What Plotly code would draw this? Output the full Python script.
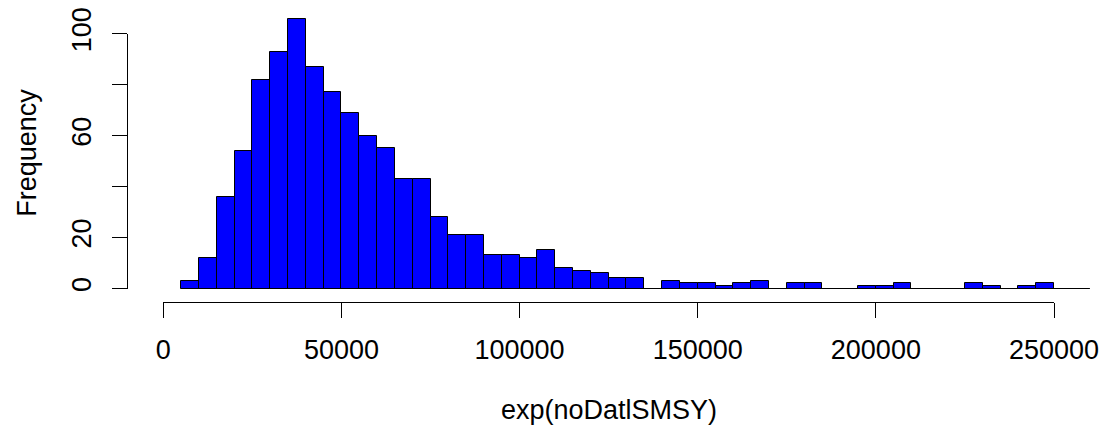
import plotly.graph_objects as go

# ---- data ----
bin_start = 5000
bin_width = 5000
counts = [3, 12, 36, 54, 82, 93, 106, 87, 77, 69,
          60, 55, 43, 43, 28, 21, 21, 13, 13, 12,
          15, 8, 7, 6, 4, 4, 0, 3, 2, 2,
          1, 2, 3, 0, 2, 2, 0, 0, 1, 1,
          2, 0, 0, 0, 2, 1, 0, 1, 2, 0, 0]
x_tickvals = [0, 50000, 100000, 150000, 200000, 250000]
x_ticktext = ["0", "50000", "100000", "150000", "200000", "250000"]
y_tickvals = [0, 20, 40, 60, 80, 100]
y_ticktext = ["0", "20", "", "60", "", "100"]
x_title = "exp(noDatlSMSY)"
y_title = "Frequency"

edges = [bin_start + i * bin_width for i in range(len(counts) + 1)]
centers = [(edges[i] + edges[i + 1]) / 2 for i in range(len(counts))]

# ---- layout geometry (pixels in a 1102x425 canvas) ----
W, H = 1102, 425
px_x0, px_x250k = 163.3, 1054.0     # pixel positions of x=0 and x=250000
px_y0, px_y100 = 288.5, 33.8        # pixel positions of y=0 and y=100
sx = (px_x250k - px_x0) / 250000.0
sy = (px_y0 - px_y100) / 100.0

FONT = "Liberation Sans, Arial, sans-serif"
FS = 27

fig = go.Figure()
fig.add_trace(go.Bar(
    x=centers, y=counts, width=[bin_width] * len(counts),
    marker=dict(color="#0000FF", line=dict(color="#000000", width=1)),
    xaxis="x", yaxis="y", showlegend=False, hoverinfo="x+y",
))
# zero-height bins are drawn as a line at 0 (as R's hist does)
fig.add_trace(go.Scatter(
    x=[edges[0], edges[-1]], y=[0, 0], mode="lines",
    line=dict(color="#000000", width=1), xaxis="x", yaxis="y",
    showlegend=False, hoverinfo="skip",
))
# dummy trace for the displayed (R-style) axes
fig.add_trace(go.Scatter(x=[None], y=[None], xaxis="x2", yaxis="y2",
                         showlegend=False, hoverinfo="skip"))

fig.update_layout(
    width=W, height=H,
    margin=dict(l=0, r=0, t=0, b=0, pad=0),
    paper_bgcolor="white", plot_bgcolor="rgba(0,0,0,0)",
    font=dict(family=FONT, size=FS, color="#000000"),
    bargap=0,
    xaxis=dict(domain=[0, 1], range=[-px_x0 / sx, (W - px_x0) / sx],
               visible=False, fixedrange=True),
    yaxis=dict(domain=[0, 1], range=[-(H - px_y0) / sy, px_y0 / sy],
               visible=False, fixedrange=True),
    xaxis2=dict(domain=[px_x0 / W, px_x250k / W], range=[0, 250000],
                anchor="free", position=1 - 301.7 / H,
                showline=True, linecolor="#000000", linewidth=1,
                ticks="outside", ticklen=15, tickwidth=1, tickcolor="#000000",
                tickvals=x_tickvals, ticktext=x_ticktext,
                ticklabelstandoff=9,
                showgrid=False, zeroline=False, automargin=False,
                fixedrange=True,
                tickfont=dict(family=FONT, size=FS, color="#000000")),
    yaxis2=dict(domain=[1 - px_y0 / H, 1 - px_y100 / H], range=[0, 100],
                anchor="free", position=126.7 / W, side="left",
                showline=True, linecolor="#000000", linewidth=1,
                ticks="outside", ticklen=15, tickwidth=1, tickcolor="#000000",
                tickvals=y_tickvals, ticktext=y_ticktext, tickangle=-90,
                ticklabelstandoff=10,
                showgrid=False, zeroline=False, automargin=False,
                fixedrange=True,
                tickfont=dict(family=FONT, size=FS, color="#000000")),
    annotations=[
        dict(text=x_title, xref="paper", yref="paper",
             x=608.5 / W, y=1 - 410 / H, xanchor="center", yanchor="middle",
             showarrow=False, font=dict(family=FONT, size=FS, color="#000000")),
        dict(text=y_title, xref="paper", yref="paper", textangle=-90,
             x=27 / W, y=1 - 152.7 / H, xanchor="center", yanchor="middle",
             showarrow=False, font=dict(family=FONT, size=FS, color="#000000")),
    ],
)

fig.write_html("out.html")
